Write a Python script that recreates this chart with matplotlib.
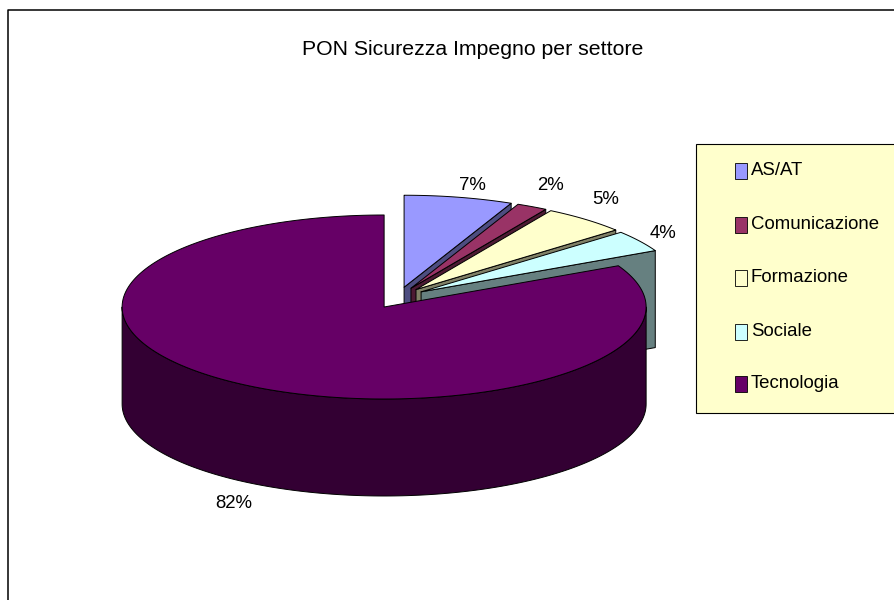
import numpy as np
import matplotlib
matplotlib.use('Agg')
import matplotlib.pyplot as plt
from matplotlib.patches import Polygon, Rectangle

plt.rcParams['font.family'] = ['Liberation Sans', 'DejaVu Sans']

title = 'PON Sicurezza Impegno per settore'
labels = ['AS/AT', 'Comunicazione', 'Formazione', 'Sociale', 'Tecnologia']
values = [6.7, 1.9, 5.2, 3.8, 82.4]
top_colors = ['#9999FF', '#993366', '#FFFFCC', '#CCFFFF', '#660066']
side_colors = ['#4D4D80', '#4D1A33', '#808066', '#668080', '#330033']

# pie geometry in pixels
cx0, cy0 = 398.4, 297.8
rx, ry = 262, 92
ex, ey = 27.2, 10.8
depth = 97

fig = plt.figure(figsize=(8.94, 6), dpi=100)
ax = fig.add_axes([0, 0, 1, 1])
ax.set_xlim(0, 894)
ax.set_ylim(600, 0)
ax.axis('off')

# chart frame
ax.plot([8, 8, 900], [600, 10, 10], color='black', lw=1.1)


def rim(c, a, b):
    t = np.radians(np.linspace(a, b, 200))
    return np.column_stack([c[0] + rx * np.sin(t), c[1] - ry * np.cos(t)])


def poly(pts, color):
    ax.add_patch(Polygon(pts, closed=True, fc=color, ec='black', lw=0.7, joinstyle='round'))


down = np.array([0, depth])
cum = np.cumsum([0] + values) * 3.6
for i in range(len(values)):
    a, b = cum[i], cum[i + 1]
    mid = np.radians((a + b) / 2)
    c = np.array([cx0 + ex * np.sin(mid), cy0 - ey * np.cos(mid)])
    # radial end face
    end = rim(c, b, b)[0]
    if b < 180:
        poly([c, end, end + down, c + down], side_colors[i])
    # outer wall, front half only
    lo, hi = max(a, 90), min(b, 270)
    if lo < hi:
        r = rim(c, lo, hi)
        poly(np.vstack([r, (r + down)[::-1]]), side_colors[i])
    poly(np.vstack([[c], rim(c, a, b)]), top_colors[i])

ax.text(473, 55, title, fontsize=15.3, ha='center', va='baseline')

# percentage labels
for v, x, y in zip(values, [472, 550, 606, 663, 234], [190, 190, 204, 238, 508]):
    ax.text(x, y, '%.0f%%' % v, fontsize=13.4, ha='center', va='baseline')

# legend
ax.add_patch(Rectangle((696, 144), 210, 269, fc='#FFFFCC', ec='black', lw=0.8))
for s, col, y in zip(labels, top_colors, [169, 223, 276, 330, 382]):
    ax.add_patch(Rectangle((735, y - 6), 12, 16, fc=col, ec='black', lw=0.6))
    ax.text(751, y + 6, s, fontsize=13.4, ha='left', va='baseline')

fig.savefig('out.png', dpi=100)
